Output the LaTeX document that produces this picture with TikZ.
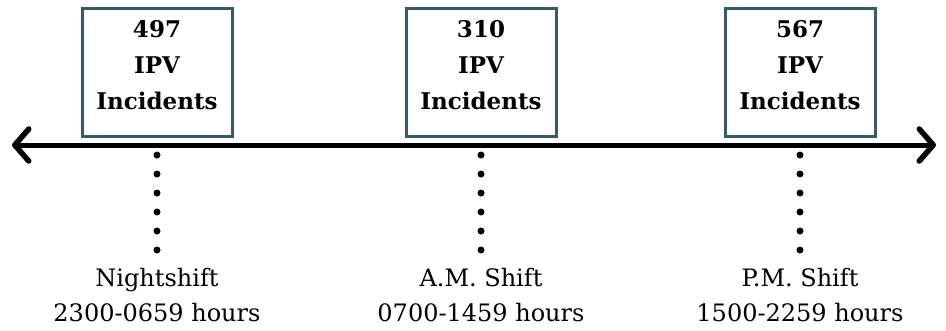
\documentclass[tikz,border=0pt]{standalone}
\usepackage{fontspec}
\setmainfont{DejaVu Serif}
\usepackage{tikz}
\usetikzlibrary{arrows.meta,positioning}
\definecolor{boxteal}{RGB}{52,92,102}
\tikzset{
  % count boxes
  countbox/.style={
    draw=boxteal,
    line width=3pt,
    fill=white,
    minimum width=150pt,
    minimum height=128pt,
    text depth=15pt,
    align=center,
    font=\fontsize{23}{36}\selectfont\bfseries
  },
  % shift labels under the dots
  shiftlab/.style={
    align=center,
    anchor=north,
    font=\fontsize{24}{35}\selectfont
  },
  % time axis
  axis/.style={line width=5pt, line cap=round,
    {Straight Barb[length=14pt,width=32pt,line width=5.5pt,round]}-{Straight Barb[length=14pt,width=32pt,line width=5.5pt,round]}},
  % dotted drop line
  droplink/.style={line width=7pt, line cap=round, dash pattern=on 0pt off 19pt},
}
\begin{document}
\begin{tikzpicture}[x=1pt,y=-1pt]
  \useasboundingbox (0,0) rectangle (946,330);

  % axis
  \coordinate (west) at (12,145);
  \coordinate (east) at (936,145);
  \draw[axis] (west) -- (east);

  % boxes
  \node[countbox] (night) at (157,72) {497\\IPV\\Incidents};
  \node[countbox] (am) at (481,72) {310\\IPV\\Incidents};
  \node[countbox] (pm) at (800,72) {567\\IPV\\Incidents};

  % ticks on the axis
  \coordinate (tnight) at (157,155);
  \coordinate (tam) at (481,155);
  \coordinate (tpm) at (800,155);

  % labels
  \node[shiftlab] (lnight) at (157,265) {Nightshift\\2300-0659 hours};
  \node[shiftlab] (lam) at (481,265) {A.M. Shift\\0700-1459 hours};
  \node[shiftlab] (lpm) at (800,265) {P.M. Shift\\1500-2259 hours};

  % dots
  \draw[droplink] (tnight) -- (lnight.north);
  \draw[droplink] (tam) -- (lam.north);
  \draw[droplink] (tpm) -- (lpm.north);
\end{tikzpicture}
\end{document}
